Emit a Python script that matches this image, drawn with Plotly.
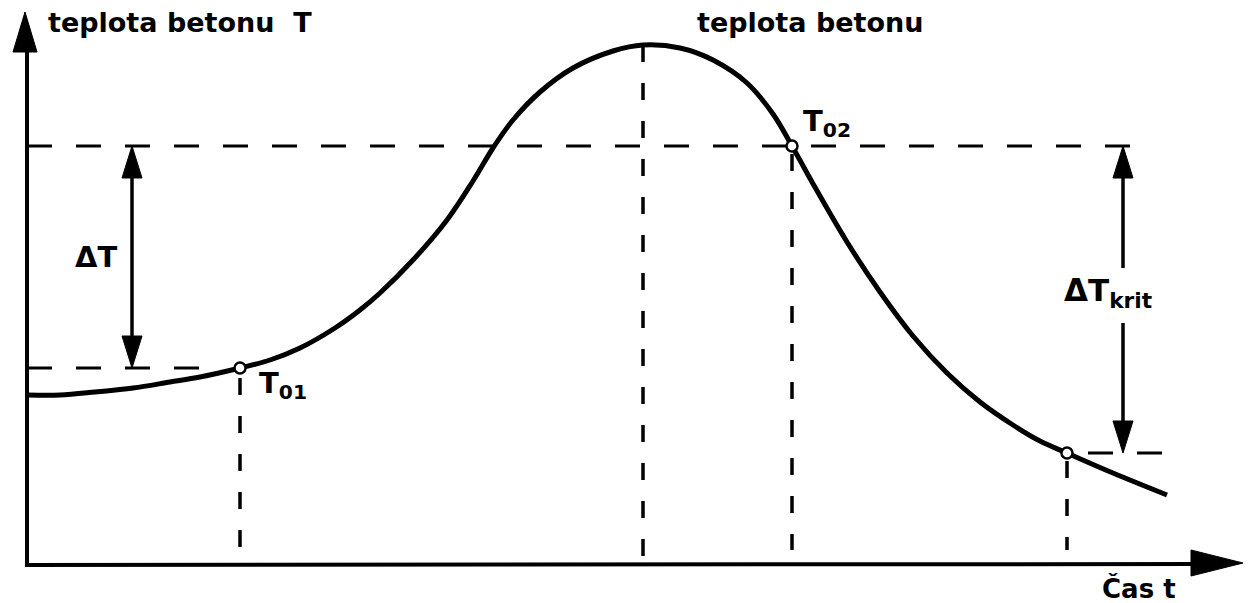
import plotly.graph_objects as go

# ---- data (time t, concrete temperature T; arbitrary units) ----
curve_time = [28, 60, 95, 133, 170, 200, 240, 270, 300, 335, 360, 380, 413, 447, 473,
              493, 513, 540, 573, 613, 643, 680, 713, 747, 773, 792, 812, 847, 880,
              913, 947, 980, 1013, 1040, 1067, 1113, 1167]
curve_temp = [208, 208, 211, 215, 221, 226, 235, 243, 255, 275, 293, 310, 343, 383, 422,
              455, 483, 511, 535, 552, 558, 555, 543, 520, 489, 457, 421, 361, 311,
              267, 230, 201, 178, 162, 150, 130, 108]

point_time = [240, 792, 1067]          # T01, T02, critical point
point_temp = [235, 457, 150]
peak_time = 643
peak_temp = 558

axis_origin = (27, 38)
axis_x_end = 1243
axis_y_end = 591

FONT = "DejaVu Sans"
BLACK = "#000000"

fig = go.Figure()

def line(xs, ys, width=3.5, dash=None):
    fig.add_trace(go.Scatter(x=xs, y=ys, mode="lines", hoverinfo="skip",
                             line=dict(color=BLACK, width=width, dash=dash),
                             showlegend=False))

def head(tip_x, tip_y, dx, dy, length=30, half=10):
    # triangle with tip at (tip_x, tip_y) pointing in direction (dx, dy)
    bx, by = tip_x - dx * length, tip_y - dy * length
    px, py = -dy * half, dx * half
    fig.add_trace(go.Scatter(x=[tip_x, bx + px, bx - px, tip_x],
                             y=[tip_y, by + py, by - py, tip_y],
                             mode="lines", fill="toself", fillcolor=BLACK,
                             line=dict(color=BLACK, width=1), hoverinfo="skip",
                             showlegend=False))

HD = "25px,24px"
VD = "17px,21px"

# horizontal dashed levels
line([axis_origin[0], 200], [point_temp[0]] * 2, width=3, dash=HD)
line([axis_origin[0], 1135], [point_temp[1]] * 2, width=3, dash=HD)
line([1088, 1163], [point_temp[2]] * 2, width=3, dash=HD)

# vertical dashed lines
line([point_time[0]] * 2, [point_temp[0] - 10, axis_origin[1]], width=3.5, dash=VD)
line([peak_time] * 2, [peak_temp, axis_origin[1]], width=3.5, dash=VD)
line([point_time[1]] * 2, [point_temp[1] - 8, 53], width=3.5, dash=VD)
line([point_time[2]] * 2, [point_temp[2] - 8, 53], width=3.5, dash=VD)

# axes
line([axis_origin[0], axis_origin[0]], [axis_origin[1] - 2, axis_y_end - 35], width=4)
head(axis_origin[0] - 2, axis_y_end, 0, 1, length=40, half=12)
line([axis_origin[0] - 2, axis_x_end - 45], [axis_origin[1], axis_origin[1] + 1], width=4)
head(axis_x_end, axis_origin[1] + 2, 1, 0, length=52, half=13)

# Delta T arrow
dT_x = 132
line([dT_x, dT_x], [point_temp[1] - 25, point_temp[0] + 25], width=3.5)
head(dT_x, point_temp[1], 0, 1, length=32, half=10)
head(dT_x, point_temp[0], 0, -1, length=32, half=10)

# Delta T krit arrow (interrupted by its label)
dK_x = 1123
line([dK_x, dK_x], [point_temp[1] - 25, 335], width=3.5)
line([dK_x, dK_x], [280, point_temp[2] + 25], width=3.5)
head(dK_x, point_temp[1], 0, 1, length=32, half=10)
head(dK_x, point_temp[2], 0, -1, length=32, half=10)

# the temperature curve
fig.add_trace(go.Scatter(x=curve_time, y=curve_temp, mode="lines",
                         line=dict(color=BLACK, width=5, shape="spline", smoothing=1.0),
                         hoverinfo="skip", showlegend=False))
# points on the curve
fig.add_trace(go.Scatter(x=point_time, y=point_temp, mode="markers",
                         marker=dict(size=11, color="white", line=dict(color=BLACK, width=2.5)),
                         hoverinfo="skip", showlegend=False))

def text(x, y, s, size=26, xanchor="left", yanchor="middle"):
    fig.add_annotation(x=x, y=y, xref="x", yref="y", text=s, showarrow=False,
                       xanchor=xanchor, yanchor=yanchor,
                       font=dict(family=FONT, size=size, color=BLACK))

text(46, 581, "<b>teplota betonu  T</b>", size=27)
text(810, 581, "<b>teplota betonu</b>", size=27, xanchor="center")
text(73, 346, "<b>ΔT</b>", size=29)
text(1062, 311, "<b>ΔT<sub>krit</sub></b>", size=31)
text(257, 218, "<b>T<sub>01</sub></b>", size=29)
text(801, 480, "<b>T<sub>02</sub></b>", size=29)
text(1100, 15, "<b>Čas t</b>", size=26)

fig.update_layout(
    width=1253, height=603,
    margin=dict(l=0, r=0, t=0, b=0),
    paper_bgcolor="white", plot_bgcolor="white",
    xaxis=dict(range=[0, 1253], visible=False, fixedrange=True),
    yaxis=dict(range=[0, 603], visible=False, fixedrange=True),
    showlegend=False,
)

fig.write_html("out.html", config={"displayModeBar": False},
               post_script="document.body.style.margin='0px';")
